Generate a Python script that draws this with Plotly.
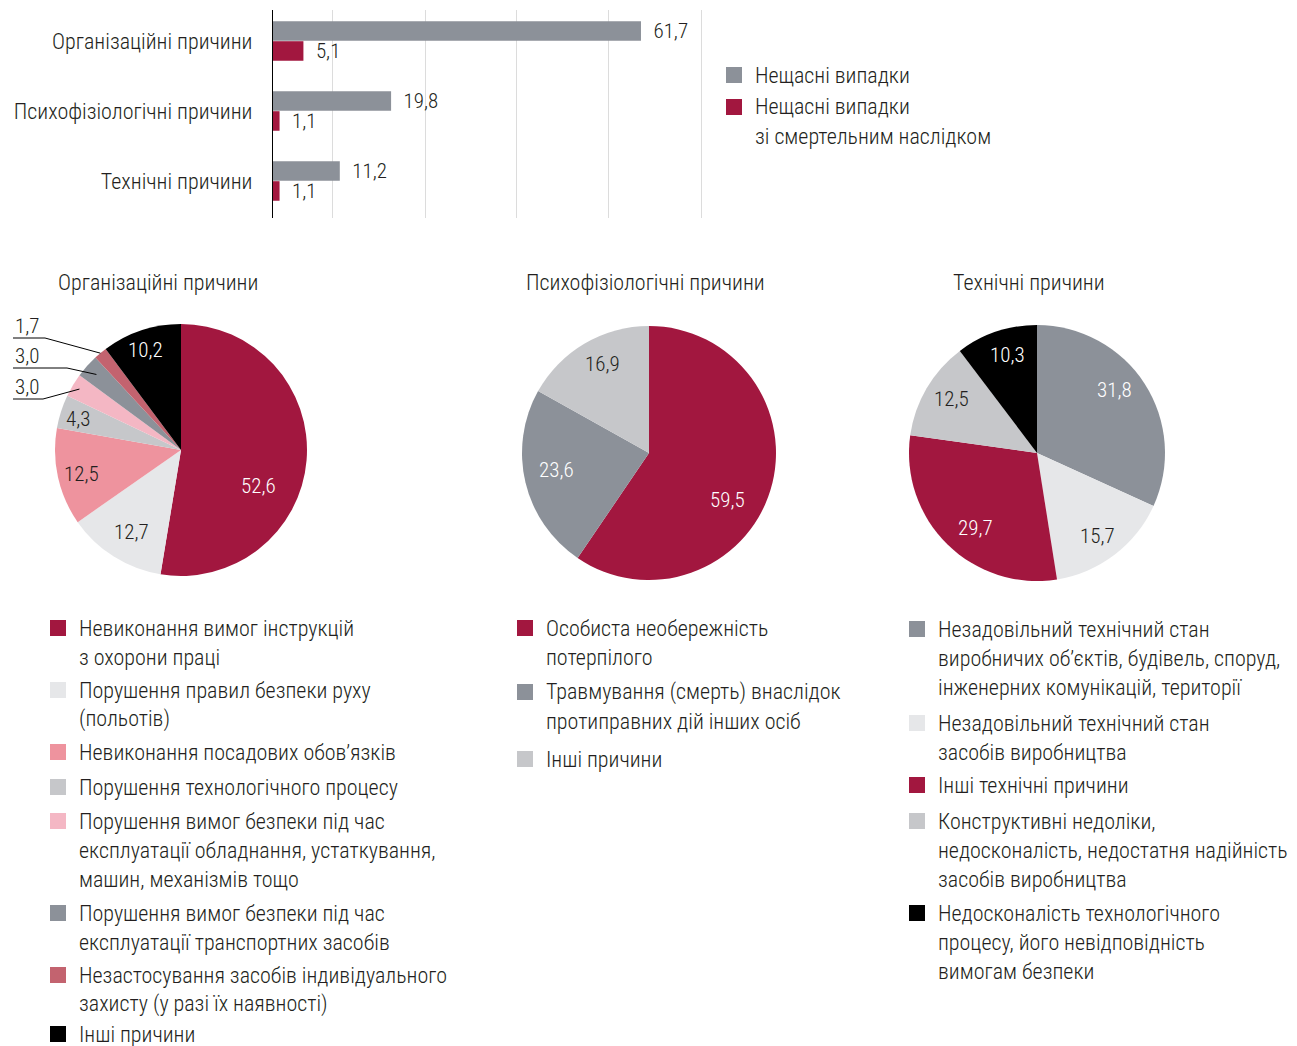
import math
import plotly.graph_objects as go

W, H = 1297, 1046


def fx(x):
    return x / W


def fy(y):
    return 1 - y / H


FONT = "Roboto Condensed, Roboto, Arial Narrow, sans-serif"
INK = "#231f20"
TXT = 22

# ---------------- data ----------------
bar_categories = ["Організаційні причини", "Психофізіологічні причини", "Технічні причини"]
accidents = [61.7, 19.8, 11.2]
fatal_accidents = [5.1, 1.1, 1.1]
bar_series = ["Нещасні випадки", "Нещасні випадки<br>зі смертельним наслідком"]

org_title = "Організаційні причини"
org_labels = [
    "Невиконання вимог інструкцій<br>з охорони праці",
    "Порушення правил безпеки руху<br>(польотів)",
    "Невиконання посадових обов’язків",
    "Порушення технологічного процесу",
    "Порушення вимог безпеки під час<br>експлуатації обладнання, устаткування,<br>машин, механізмів тощо",
    "Порушення вимог безпеки під час<br>експлуатації транспортних засобів",
    "Незастосування засобів індивідуального<br>захисту (у разі їх наявності)",
    "Інші причини",
]
org_values = [52.6, 12.7, 12.5, 4.3, 3.0, 3.0, 1.7, 10.2]

psy_title = "Психофізіологічні причини"
psy_labels = [
    "Особиста необережність<br>потерпілого",
    "Травмування (смерть) внаслідок<br>протиправних дій інших осіб",
    "Інші причини",
]
psy_values = [59.5, 23.6, 16.9]

tech_title = "Технічні причини"
tech_labels = [
    "Незадовільний технічний стан<br>виробничих об’єктів, будівель, споруд,<br>інженерних комунікацій, території",
    "Незадовільний технічний стан<br>засобів виробництва",
    "Інші технічні причини",
    "Конструктивні недоліки,<br>недосконалість, недостатня надійність<br>засобів виробництва",
    "Недосконалість технологічного<br>процесу, його невідповідність<br>вимогам безпеки",
]
tech_values = [31.8, 15.7, 29.7, 12.5, 10.3]

# ---------------- styles ----------------
RED = "#a2173f"
GREY = "#8c9199"
LGREY = "#c6c7ca"
VLGREY = "#e6e7e9"
PINK = "#ee939e"
LPINK = "#f4b7c4"
ROSE = "#c3636f"
BLACK = "#000000"

org_colors = [RED, VLGREY, PINK, LGREY, LPINK, GREY, ROSE, BLACK]
org_text_colors = ["white", INK, INK, INK, None, None, None, "white"]
psy_colors = [RED, GREY, LGREY]
psy_text_colors = ["white", "white", INK]
tech_colors = [GREY, VLGREY, RED, LGREY, BLACK]
tech_text_colors = ["white", INK, "white", INK, "white"]

# label placement inside slices: (radius fraction, angular nudge in degrees)
org_label_pos = [(0.68, 20), (0.76, -1), (0.81, -1), (0.85, -1), None, None, None, (0.84, -1)]
psy_label_pos = [(0.72, 14), (0.74, 3), (0.79, 3)]
tech_label_pos = [(0.78, -6), (0.80, 1), (0.76, -5), (0.79, 2), (0.80, 2)]

# small org slices labelled outside with leader lines: slice index, label y, elbow x, reach
org_callouts = [(6, 326, 45, 1.0), (5, 356, 67, 0.90), (4, 387, 43, 0.94)]


def fmt(v):
    return f"{v:.1f}".replace(".", ",")


fig = go.Figure()

# ---------------- bar chart ----------------
for vals, name, col in [(accidents, bar_series[0], GREY), (fatal_accidents, bar_series[1], RED)]:
    fig.add_trace(go.Bar(
        y=bar_categories, x=vals, orientation="h", name=name,
        marker=dict(color=col, line=dict(width=0)),
        texttemplate="\u00a0\u00a0%{x:.1f}", textposition="outside", constraintext="none",
        textfont=dict(family=FONT, size=21, color=INK, weight=300), cliponaxis=False,
    ))

# category rows sit 70 px apart, first row centred 31 px below the top of the axis
bar_top, bar_bottom, row_step, first_row = 10, 218, 70, 31
y_lo = -first_row / row_step
y_hi = y_lo + (bar_bottom - bar_top) / row_step

fig.update_layout(
    barmode="group", bargap=0.43, bargroupgap=0.02,
    separators=", ",
    xaxis=dict(domain=[fx(273), fx(703)], range=[0, 72.1], tickvals=[10, 25.5, 40.9, 56.3, 71.9],
               showticklabels=False, ticks="", showgrid=True, gridcolor="#dcdcdc", gridwidth=1,
               zeroline=False, showline=False, fixedrange=True),
    yaxis=dict(domain=[fy(bar_bottom), fy(bar_top)], range=[y_hi, y_lo], showline=True,
               linecolor="#000000", linewidth=1.3, ticks="", showgrid=False, ticklabelstandoff=15,
               tickfont=dict(family=FONT, size=TXT, color=INK, weight=300), fixedrange=True),
)

shapes = []
annotations = []


def text(x, y, s, anchor="left", color=INK, size=TXT):
    annotations.append(dict(x=fx(x), y=fy(y), xref="paper", yref="paper", text=s, showarrow=False,
                            xanchor=anchor, yanchor="middle",
                            font=dict(family=FONT, size=size, color=color, weight=300)))


def square(x, y, color):
    shapes.append(dict(type="rect", xref="paper", yref="paper", x0=fx(x), x1=fx(x + 16),
                       y0=fy(y + 8), y1=fy(y - 8), fillcolor=color, line=dict(width=0)))


# bar legend
bar_legend_y = [75, 107]
for name, col, y0 in zip(bar_series, [GREY, RED], bar_legend_y):
    square(726, y0, col)
    for k, line in enumerate(name.split("<br>")):
        text(753, y0 + k * 30, line)

# ---------------- pies ----------------
pies = [
    dict(title=org_title, labels=org_labels, values=org_values, colors=org_colors,
         tcol=org_text_colors, lpos=org_label_pos, cx=181, cy=450, r=126, tx=158,
         leg_x=50, leg_y=[628, 690, 752, 787, 821, 913, 975, 1034]),
    dict(title=psy_title, labels=psy_labels, values=psy_values, colors=psy_colors,
         tcol=psy_text_colors, lpos=psy_label_pos, cx=649, cy=453, r=127, tx=645,
         leg_x=517, leg_y=[628, 692, 759]),
    dict(title=tech_title, labels=tech_labels, values=tech_values, colors=tech_colors,
         tcol=tech_text_colors, lpos=tech_label_pos, cx=1037, cy=453, r=128, tx=1029,
         leg_x=909, leg_y=[629, 723, 785, 821, 913]),
]


def slice_point(values, i, cx, cy, r, frac, nudge=0.0):
    total = sum(values)
    mid = (sum(values[:i]) + values[i] / 2) / total * 360 + nudge
    t = math.radians(mid)
    return cx + frac * r * math.sin(t), cy - frac * r * math.cos(t)


for p in pies:
    cx, cy, r = p["cx"], p["cy"], p["r"]
    fig.add_trace(go.Pie(
        labels=[l.replace("<br>", " ") for l in p["labels"]], values=p["values"],
        marker=dict(colors=p["colors"], line=dict(width=0)),
        sort=False, direction="clockwise", rotation=0, textinfo="none", hoverinfo="label+value",
        domain=dict(x=[fx(cx - r), fx(cx + r)], y=[fy(cy + r), fy(cy - r)]),
        showlegend=False,
    ))
    text(p["tx"], 282, p["title"], anchor="center")
    for i, v in enumerate(p["values"]):
        if p["lpos"][i] is None:
            continue
        frac, nudge = p["lpos"][i]
        lx, ly = slice_point(p["values"], i, cx, cy, r, frac, nudge)
        text(lx, ly, fmt(v), anchor="center", color=p["tcol"][i], size=21)
    # legend
    for lab, col, y0 in zip(p["labels"], p["colors"], p["leg_y"]):
        square(p["leg_x"], y0, col)
        for k, line in enumerate(lab.split("<br>")):
            text(p["leg_x"] + 27, y0 + k * 29, line)

# callouts for the thin slices of the first pie
p = pies[0]
for idx, ly, elbow, reach in org_callouts:
    ex, ey = slice_point(p["values"], idx, p["cx"], p["cy"], p["r"], reach)
    line_y = ly + 12
    shapes.append(dict(type="path", xref="paper", yref="paper",
                       path=f"M {fx(13)} {fy(line_y)} L {fx(elbow)} {fy(line_y)} L {fx(ex)} {fy(ey)}",
                       line=dict(color="#000000", width=1)))
    text(13, ly, fmt(p["values"][idx]), size=21)

fig.update_layout(
    width=W, height=H, margin=dict(l=0, r=0, t=0, b=0),
    paper_bgcolor="white", plot_bgcolor="white", showlegend=False,
    shapes=shapes, annotations=annotations,
    font=dict(family=FONT, color=INK),
)

fig.write_html("out.html")
